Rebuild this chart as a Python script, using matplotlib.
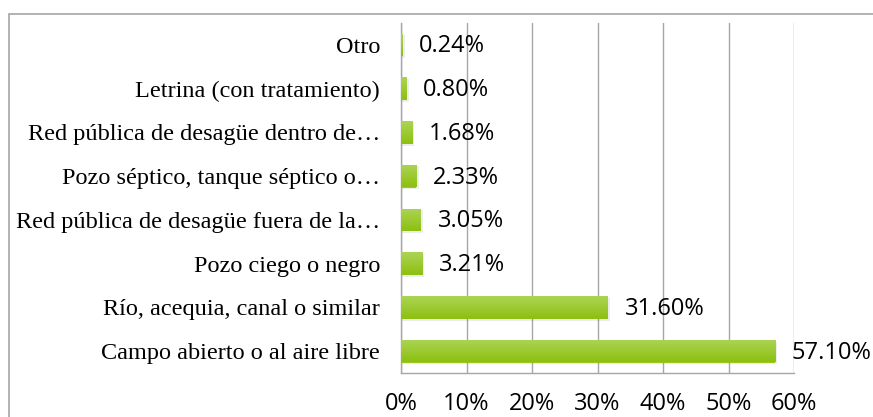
import numpy as np
import matplotlib.pyplot as plt
from matplotlib.patches import Rectangle
from matplotlib.colors import LinearSegmentedColormap

categories = [
    "Campo abierto o al aire libre",
    "Río, acequia, canal o similar",
    "Pozo ciego o negro",
    "Red pública de desagüe fuera de la…",
    "Pozo séptico, tanque séptico o…",
    "Red pública de desagüe dentro de…",
    "Letrina (con tratamiento)",
    "Otro",
]
values = [57.10, 31.60, 3.21, 3.05, 2.33, 1.68, 0.80, 0.24]
value_labels = ["57.10%", "31.60%", "3.21%", "3.05%", "2.33%", "1.68%", "0.80%", "0.24%"]
xticks = [0, 10, 20, 30, 40, 50, 60]

W, H = 873, 417
fig = plt.figure(figsize=(W / 100, H / 100), dpi=100)

# outer chart border (extends past the cropped image)
fig.patches.append(Rectangle((9 / W, -0.1), 1.1, (H - 14) / H + 0.1, transform=fig.transFigure,
                             fill=False, edgecolor="#a6a6a6", linewidth=1.2))

left, right, top, bottom = 401, 794, 23, 373
ax = fig.add_axes([left / W, 1 - bottom / H, (right - left) / W, (bottom - top) / H])

y = np.arange(len(categories))
bar_h = 0.52
grad = LinearSegmentedColormap.from_list("g", ["#acd455", "#8dc010"])

for yi, v in zip(y, values):
    # soft shadow
    ax.add_patch(Rectangle((0.15, yi - bar_h / 2 - 0.04), v + 0.2, bar_h, facecolor="#000000",
                           alpha=0.07, edgecolor="none", zorder=2))
    bar = ax.barh(yi, v, height=bar_h, color="#99c91e", zorder=3)[0]
    im = ax.imshow(np.linspace(0, 1, 50).reshape(-1, 1), cmap=grad, aspect="auto",
                   extent=(0, v, yi - bar_h / 2, yi + bar_h / 2), zorder=3.5, interpolation="bicubic")
    im.set_clip_path(bar)

for yi, v, lab in zip(y, values, value_labels):
    ax.annotate(lab, (v, yi), xytext=(12, -1), textcoords="offset points", va="center", ha="left",
                fontsize=17, family="Open Sans", color="#000000", zorder=5, annotation_clip=False)

ax.set_xlim(0, 60)
ax.set_ylim(-0.5, len(categories) - 0.5)
ax.set_yticks(y)
ax.set_yticklabels(categories, family="Liberation Serif", fontsize=17.5)
ax.set_xticks(xticks)
ax.set_xticklabels([f"{t}%" for t in xticks], family="Open Sans", fontsize=17)
ax.tick_params(axis="y", length=0, pad=15)
ax.tick_params(axis="x", length=0, pad=14)
ax.grid(axis="x", color="#a6a6a6", linewidth=1.0, zorder=0)
ax.set_axisbelow(True)
for s in ["top", "right"]:
    ax.spines[s].set_visible(False)
for s in ["left", "bottom"]:
    ax.spines[s].set_color("#a6a6a6")
    ax.spines[s].set_linewidth(1.0)

fig.savefig("out.png", dpi=100)
